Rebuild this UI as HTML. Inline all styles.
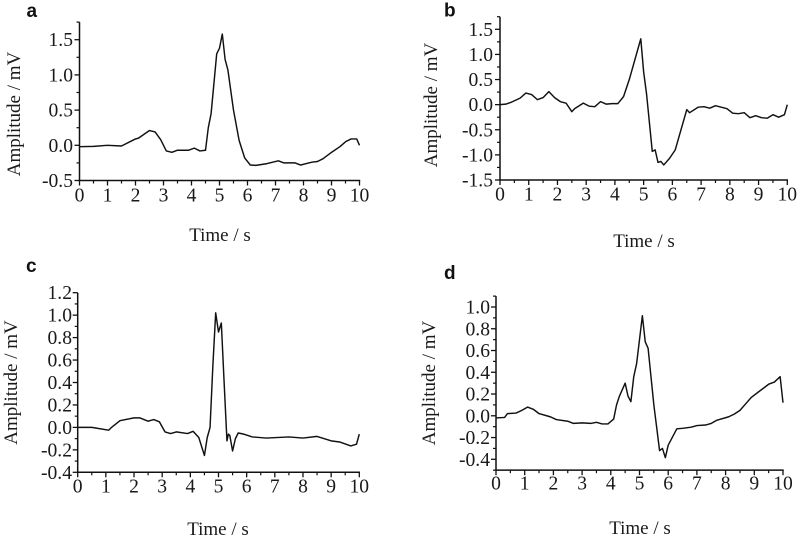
<!DOCTYPE html>
<html>
<head>
<meta charset="utf-8">
<title>Amplitude vs time panels</title>
<style>
html,body{margin:0;padding:0;background:#fff;}
svg{display:block;filter:blur(0.35px);}
text{font-family:"Liberation Serif",serif;font-size:19px;fill:#1a1a1a;}
.tick-text{font-size:19.6px;}
.panel-letter{font-family:"Liberation Sans",sans-serif;font-size:19px;font-weight:bold;fill:#111;}
</style>
</head>
<body>
<svg id="chart" width="800" height="540" viewBox="0 0 800 540" xmlns="http://www.w3.org/2000/svg"></svg>
<script>
const xTickValues = [0,1,2,3,4,5,6,7,8,9,10];

const aTime = [0,0.5,1,1.5,2,2.1,2.5,2.7,2.9,3.1,3.3,3.5,3.9,4.1,4.3,4.5,4.6,4.7,4.9,5.0,5.1,5.2,5.3,5.5,5.7,5.9,6.1,6.3,6.7,7.1,7.3,7.7,7.9,8.1,8.3,8.5,8.7,9.0,9.3,9.5,9.7,9.9,10];
const aAmp = [-0.02,-0.015,0,-0.01,0.09,0.1,0.21,0.19,0.08,-0.08,-0.1,-0.07,-0.07,-0.04,-0.08,-0.07,0.25,0.45,1.3,1.38,1.58,1.22,1.07,0.5,0.07,-0.18,-0.28,-0.285,-0.26,-0.22,-0.25,-0.25,-0.28,-0.26,-0.24,-0.23,-0.19,-0.1,-0.02,0.05,0.09,0.09,0];
const aTicks = ["-0.5","0.0","0.5","1.0","1.5"];

const bTime = [0,0.2,0.4,0.7,0.9,1.1,1.3,1.5,1.7,1.9,2.1,2.3,2.5,2.6,2.9,3.1,3.3,3.5,3.7,3.9,4.1,4.3,4.5,4.9,5.0,5.1,5.3,5.4,5.5,5.6,5.7,5.9,6.1,6.5,6.6,6.9,7.1,7.3,7.5,7.9,8.1,8.3,8.5,8.7,8.9,9.1,9.3,9.5,9.7,9.9,10];
const bAmp = [0,0.01,0.05,0.13,0.23,0.2,0.1,0.14,0.26,0.14,0.06,0.03,-0.14,-0.08,0.03,-0.03,-0.04,0.06,0.01,0.02,0.02,0.16,0.5,1.31,0.65,0.22,-0.93,-0.9,-1.15,-1.13,-1.2,-1.07,-0.9,-0.1,-0.16,-0.05,-0.04,-0.07,-0.02,-0.08,-0.17,-0.18,-0.16,-0.26,-0.22,-0.26,-0.27,-0.2,-0.25,-0.2,0];
const bTicks = ["-1.5","-1.0","-0.5","0.0","0.5","1.0","1.5"];

const cTime = [0,0.5,1.1,1.2,1.5,2,2.2,2.5,2.7,2.9,3.1,3.3,3.5,3.9,4.1,4.3,4.5,4.6,4.7,4.8,4.9,5.0,5.1,5.2,5.3,5.35,5.4,5.5,5.6,5.7,5.9,6.2,6.7,7.5,8,8.5,9,9.3,9.7,9.9,10];
const cAmp = [0,0,-0.025,0,0.06,0.085,0.085,0.055,0.07,0.05,-0.04,-0.055,-0.04,-0.055,-0.035,-0.09,-0.25,-0.09,0,0.55,1.02,0.85,0.93,0.4,-0.12,-0.06,-0.07,-0.21,-0.1,-0.05,-0.06,-0.085,-0.095,-0.085,-0.095,-0.08,-0.12,-0.13,-0.165,-0.15,-0.06];
const cTicks = ["-0.4","-0.2","0.0","0.2","0.4","0.6","0.8","1.0","1.2"];

const dTime = [0,0.3,0.4,0.7,0.9,1.1,1.3,1.5,1.9,2.1,2.5,2.7,3,3.3,3.5,3.7,3.9,4.1,4.2,4.3,4.5,4.6,4.7,4.8,4.9,5.1,5.2,5.3,5.5,5.7,5.8,5.9,6,6.3,6.5,6.8,7,7.3,7.5,7.7,8.1,8.3,8.5,8.7,8.9,9.2,9.5,9.7,9.9,10];
const dAmp = [-0.02,-0.015,0.02,0.025,0.05,0.08,0.06,0.02,-0.01,-0.035,-0.05,-0.07,-0.065,-0.07,-0.06,-0.075,-0.075,-0.03,0.1,0.18,0.3,0.18,0.13,0.36,0.48,0.92,0.68,0.62,0.1,-0.32,-0.3,-0.385,-0.27,-0.12,-0.115,-0.105,-0.09,-0.085,-0.07,-0.04,-0.01,0.015,0.05,0.11,0.17,0.23,0.29,0.31,0.36,0.12];
const dTicks = ["-0.4","-0.2","0.0","0.2","0.4","0.6","0.8","1.0"];

const svg = document.getElementById('chart');
const NS = 'http://www.w3.org/2000/svg';

function make(tag, attrs, parent, text) {
  const el = document.createElementNS(NS, tag);
  for (const k in attrs) el.setAttribute(k, attrs[k]);
  if (text !== undefined) el.textContent = text;
  parent.appendChild(el);
  return el;
}

function linear(d0, d1, r0, r1) {
  return v => r0 + (v - d0) * (r1 - r0) / (d1 - d0);
}

function drawPanel(p) {
  const g = make('g', {}, svg);
  
  

  const x = linear(0, 10, p.x0, p.x1);
  const y = linear(p.vLow, p.vHigh, p.yLow, p.yHigh);

  const letter = make('text', {x: p.letterX, y: p.letterY, class: 'panel-letter'}, g, p.letter);
  
  

  const yAxisLine = make('line', {x1: p.x0, x2: p.x0, y1: y(p.vMin), y2: y(p.vMax), stroke: '#111', 'stroke-width': 1.5}, g);
  
  

  const xAxisLine = make('line', {x1: p.x0 - 0.7, x2: p.x1 + 0.7, y1: y(p.vMin), y2: y(p.vMin), stroke: '#111', 'stroke-width': 1.5}, g);
  
  

  const base = y(p.vMin);
  for (let i = 0; i < xTickValues.length; i++) {
    const v = xTickValues[i];
    const tick = make('line', {x1: x(v), x2: x(v), y1: base, y2: base + 5, stroke: '#111', 'stroke-width': 1.3}, g);
    
    
    if (i < xTickValues.length - 1) {
      const minor = make('line', {x1: x(v + 0.5), x2: x(v + 0.5), y1: base, y2: base + 3, stroke: '#111', 'stroke-width': 1.2}, g);
      
      
    }
    const label = make('text', {x: x(v), y: p.xTickBase + 0.5, 'text-anchor': 'middle', class: 'tick-text'}, g, String(v));
    
    
  }

  const step = parseFloat(p.ticks[1]) - parseFloat(p.ticks[0]);
  for (let i = 0; i < p.ticks.length; i++) {
    const v = parseFloat(p.ticks[i]);
    const tick = make('line', {x1: p.x0 - 5, x2: p.x0, y1: y(v), y2: y(v), stroke: '#111', 'stroke-width': 1.3}, g);
    
    
    const label = make('text', {x: p.yLabelRight, y: y(v) + 6.5, 'text-anchor': 'end', class: 'tick-text'}, g, p.ticks[i]);
    
    
  }
  for (let m = parseFloat(p.ticks[0]) - step / 2; m < p.vMax + 1e-6; m += step) {
    if (m < p.vMin - 1e-6) continue;
    const minor = make('line', {x1: p.x0 - 3, x2: p.x0, y1: y(m), y2: y(m), stroke: '#111', 'stroke-width': 1.2}, g);
    
    
  }

  const xTitle = make('text', {x: p.xTitleX, y: p.xTitleY, 'text-anchor': 'middle'}, g, 'Time / s');
  
  

  const yTitle = make('text', {x: 0, y: 0, 'text-anchor': 'middle', transform: 'translate(' + p.yTitleX + ',' + p.yTitleY + ') rotate(-90)'}, g, 'Amplitude / mV');
  
  

  const pts = p.time.map((t, i) => x(t).toFixed(2) + ',' + y(p.amp[i]).toFixed(2)).join(' ');
  const trace = make('polyline', {points: pts, fill: 'none', stroke: '#111', 'stroke-width': 1.45, 'stroke-linejoin': 'round'}, g);
  
  
}

drawPanel({letter:'a', time:aTime, amp:aAmp, ticks:aTicks, x0:79.5, x1:359.5, vLow:-0.5, vHigh:1.5, yLow:180.5, yHigh:39.7, vMin:-0.5, vMax:1.75, letterX:26.5, letterY:17, xTickBase:201, xTitleX:220, xTitleY:241, yLabelRight:73, yTitleX:20, yTitleY:114});
drawPanel({letter:'b', time:bTime, amp:bAmp, ticks:bTicks, x0:500, x1:787.3, vLow:-1.5, vHigh:1.5, yLow:180, yHigh:29.3, vMin:-1.5, vMax:1.75, letterX:444, letterY:16.7, xTickBase:200, xTitleX:644, xTitleY:247, yLabelRight:493, yTitleX:437, yTitleY:105});
drawPanel({letter:'c', time:cTime, amp:cAmp, ticks:cTicks, x0:77.7, x1:359.3, vLow:-0.4, vHigh:1.2, yLow:472.3, yHigh:292.7, vMin:-0.4, vMax:1.2, letterX:26, letterY:272, xTickBase:492, xTitleX:218, xTitleY:535, yLabelRight:72, yTitleX:17, yTitleY:382.5});
drawPanel({letter:'d', time:dTime, amp:dAmp, ticks:dTicks, x0:496, x1:783, vLow:-0.4, vHigh:1.0, yLow:459.3, yHigh:307, vMin:-0.5, vMax:1.1, letterX:444, letterY:279, xTickBase:489, xTitleX:640, xTitleY:534, yLabelRight:490, yTitleX:435, yTitleY:383});
</script>
</body>
</html>
